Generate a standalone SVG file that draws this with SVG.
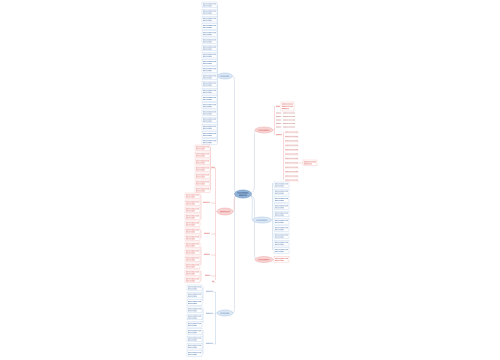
<svg xmlns="http://www.w3.org/2000/svg" width="500" height="360" viewBox="0 0 500 360">
<style>
.tb{stroke:#b7cce6;stroke-width:0.5;fill:none}
.tr{stroke:#f0b4b4;stroke-width:0.5;fill:none}
.tg{stroke:#c9d4e2;stroke-width:0.6;fill:none}
.nb{fill:#dce8f5;stroke:#a9c4e4;stroke-width:0.5}
.nr{fill:#f8d3d3;stroke:#eeaaaa;stroke-width:0.5}
.nc{fill:#92b3d8;stroke:#6f95c2;stroke-width:0.6}
.xb{stroke:#6d8fbc;stroke-width:0.8;stroke-dasharray:0.8 0.3;fill:none}
.xr{stroke:#d9605c;stroke-width:0.8;stroke-dasharray:0.8 0.3;fill:none}
.xc{stroke:#2f4f7a;stroke-width:0.9;stroke-dasharray:0.8 0.3;fill:none}
</style>
<defs>
<g id="lb"><rect width="15" height="5.6" fill="#fff" stroke="#bcd2ec" stroke-width="0.4"/><path d="M1,1.9H14M1,3.9H10" stroke="#86a3c8" stroke-width="0.9" stroke-dasharray="0.9 0.3" fill="none"/></g>
<g id="lr"><rect width="15" height="5.6" fill="#fff" stroke="#f2bcbc" stroke-width="0.4"/><path d="M1,1.9H14M1,3.9H10" stroke="#e58784" stroke-width="0.9" stroke-dasharray="0.9 0.3" fill="none"/></g>
<g id="rw"><path d="M0,0H5.5M7,0H19" stroke="#c98a8a" stroke-width="0.8" stroke-dasharray="0.8 0.3" fill="none"/></g>
<g id="ri"><path d="M0,0H13" stroke="#d98a88" stroke-width="0.8" stroke-dasharray="0.8 0.3" fill="none"/><path d="M0,0.9H14" stroke="#f2bcbc" stroke-width="0.3"/></g>
</defs>
<rect width="500" height="360" fill="#fff"/>

<g id="connectors">
<path class="tg" d="M236,193 C234.5,192 234.5,189 234.5,185 L234.5,82 C234.5,78.5 234,76.5 232.5,76"/>
<path class="tg" d="M236,195.5 C234.5,196.5 234.5,199 234.5,203 L234.5,307 C234.5,310.5 234,313 233,313"/>
<path class="tr" d="M236,195 C232,197 236,211.5 233,211.5"/>
<path class="tg" d="M251,193 C253.5,192 254.5,189 254.5,185 L254.5,136 C254.5,132 255,130 255.5,130"/>
<path class="tg" d="M251,195.5 C253.5,196.5 254.5,199 254.5,203 L254.5,254 C254.5,257.5 255,259.5 255.5,259.5"/>
<path class="tb" d="M251,195 C254,200 251,220 252.5,220"/>
<!-- top-left -->
<path class="tb" d="M217.5,76 H217.5 M217.5,4.5 V142"/>
<!-- middle red -->
<path class="tr" d="M217,211.5 H215.5 M215.5,168 V280 M211,168 H215.5 M211,203 H215.5 M211,234 H215.5 M211,255 H215.5 M211,276 H215.5 M212,282 H215.5"/>
<path class="tr" d="M210.5,147 V190 M201,195 V220 M201,230 V238 M201,247 V265 M201,271 V281"/>
<!-- bottom blue -->
<path class="tb" d="M217,313 H215.5 M215.5,292 V344 M213.5,292 H215.5 M213.5,314 H215.5 M213.5,344 H215.5 M203,287 V301 M203,308 V323 M203,330 V354"/>
<!-- right red -->
<path class="tr" d="M273,130 H274.5 M274.5,106 V135 M283.5,132 V180 M299,163 H303"/>
<!-- right blue -->
<path class="tb" d="M271.5,220 H272.5 M272.5,183 V250"/>
<path class="tr" d="M273,259.5 H274"/>
</g>

<g id="n-center"><ellipse class="nc" cx="243" cy="194" rx="8.5" ry="4"/><path class="xc" d="M237.5,192.9H248.5M239,195.2H247"/></g>

<g id="n-left1"><ellipse class="nb" cx="225" cy="76" rx="7.5" ry="3"/><path class="xb" d="M220.5,76.2H229.5"/>
<use href="#lb" x="202" y="2"/><use href="#lb" x="202" y="9.2"/><use href="#lb" x="202" y="16.4"/><use href="#lb" x="202" y="23.6"/><use href="#lb" x="202" y="30.8"/><use href="#lb" x="202" y="38"/><use href="#lb" x="202" y="45.2"/><use href="#lb" x="202" y="52.4"/><use href="#lb" x="202" y="59.6"/><use href="#lb" x="202" y="66.8"/><use href="#lb" x="202" y="74"/><use href="#lb" x="202" y="81.2"/><use href="#lb" x="202" y="88.4"/><use href="#lb" x="202" y="95.6"/><use href="#lb" x="202" y="102.8"/><use href="#lb" x="202" y="110"/><use href="#lb" x="202" y="117.2"/><use href="#lb" x="202" y="124.4"/><use href="#lb" x="202" y="131.6"/><use href="#lb" x="202" y="138.8"/>
</g>

<g id="n-left2"><ellipse class="nr" cx="225" cy="211.5" rx="8" ry="3.5"/><path class="xr" d="M220,211.7H230"/>
<path class="xr" d="M211.5,167.3H214.5M203,202.3H210M204,233.3H210M204,254.3H210M205,275.3H210.5M212.3,281.3H214.5"/>
<use href="#lr" x="195" y="145"/><use href="#lr" x="195" y="152"/><use href="#lr" x="195" y="159"/><use href="#lr" x="195" y="166"/><use href="#lr" x="195" y="173"/><use href="#lr" x="195" y="180"/><use href="#lr" x="195" y="187"/>
<use href="#lr" x="185" y="193"/><use href="#lr" x="185" y="200"/><use href="#lr" x="185" y="207"/><use href="#lr" x="185" y="214"/><use href="#lr" x="185" y="221"/><use href="#lr" x="185" y="228"/><use href="#lr" x="185" y="235"/><use href="#lr" x="185" y="242"/><use href="#lr" x="185" y="249"/><use href="#lr" x="185" y="256"/><use href="#lr" x="185" y="263"/><use href="#lr" x="185" y="270"/><use href="#lr" x="185" y="277"/>
</g>

<g id="n-left3"><ellipse class="nb" cx="225" cy="313" rx="8" ry="3"/><path class="xb" d="M220.5,313.2H229.5"/>
<path class="xb" d="M206,291.3H213M206,313.3H213M206,343.3H213"/>
<use href="#lb" x="187" y="285"/><use href="#lb" x="187" y="292.3"/><use href="#lb" x="187" y="299.6"/><use href="#lb" x="187" y="306.9"/><use href="#lb" x="187" y="314.2"/><use href="#lb" x="187" y="321.5"/><use href="#lb" x="187" y="328.8"/><use href="#lb" x="187" y="336.1"/><use href="#lb" x="187" y="343.4"/><use href="#lb" x="187" y="350.7"/>
</g>

<g id="n-right1"><ellipse class="nr" cx="264" cy="130" rx="9" ry="3"/><path class="xr" d="M258.5,130.2H269.5"/>
<rect x="281" y="102" width="13" height="9" fill="#fff" stroke="#f2bcbc" stroke-width="0.4"/><path class="xr" d="M282,104H293M282,106.3H293M282,108.6H289"/>
<path class="xr" d="M276,106.3H280"/>
<use href="#rw" x="276" y="113"/><use href="#rw" x="276" y="116.5"/><use href="#rw" x="276" y="120"/><use href="#rw" x="276" y="123.5"/><use href="#rw" x="276" y="127"/>
<path class="xr" d="M276,134.7H282"/>
<use href="#ri" x="285" y="132"/><use href="#ri" x="285" y="136.4"/><use href="#ri" x="285" y="140.8"/><use href="#ri" x="285" y="145.2"/><use href="#ri" x="285" y="149.6"/><use href="#ri" x="285" y="154"/><use href="#ri" x="285" y="158.4"/><use href="#ri" x="285" y="162.8"/><use href="#ri" x="285" y="167.2"/><use href="#ri" x="285" y="171.6"/><use href="#ri" x="285" y="176"/><use href="#ri" x="285" y="180"/>
<rect x="303" y="160" width="14" height="5.5" fill="#fff" stroke="#f2bcbc" stroke-width="0.4"/><path class="xr" d="M304,161.9H316M304,163.9H312"/>
</g>

<g id="n-right2"><ellipse class="nb" cx="262" cy="220" rx="9.5" ry="3"/><path class="xb" d="M256.5,220.2H267.5"/>
<use href="#lb" x="274" y="182"/><use href="#lb" x="274" y="189.3"/><use href="#lb" x="274" y="196.6"/><use href="#lb" x="274" y="203.9"/><use href="#lb" x="274" y="211.2"/><use href="#lb" x="274" y="218.5"/><use href="#lb" x="274" y="225.8"/><use href="#lb" x="274" y="233.1"/><use href="#lb" x="274" y="240.4"/><use href="#lb" x="274" y="247.7"/>
</g>

<g id="n-right3"><ellipse class="nr" cx="264" cy="259.5" rx="9" ry="3"/><path class="xr" d="M258.5,259.7H269.5"/>
<use href="#lr" x="274" y="256.5"/>
</g>
</svg>
